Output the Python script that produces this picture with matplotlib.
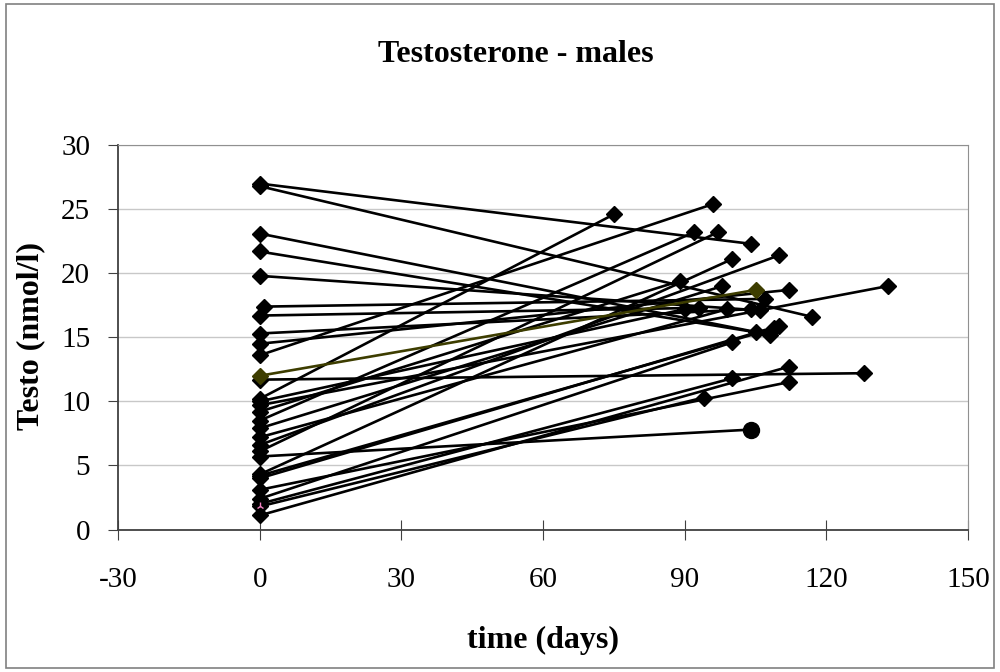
import matplotlib.pyplot as plt
from matplotlib.patches import Rectangle

# baseline (day 0) and follow-up values for each male subject
start_day = [0, 0, 0, 0, 0, 1, 0, 0, 0, 0, 0, 0, 0, 0, 0,
             0, 0, 0, 0, 0, 0, 0, 0, 0, 0, 0, 0, 0, 0, 0]
start_val = [27.0, 26.8, 23.1, 21.7, 19.8, 17.4, 16.7, 15.3, 14.5, 13.6, 12.0, 11.7, 10.2, 9.7, 9.2,
             8.5, 7.9, 7.2, 6.6, 6.1, 5.7, 4.3, 4.0, 4.2, 3.1, 2.4, 1.8, 1.1, 2.0, 10.0]
end_day = [104, 117, 108, 105, 106, 107, 93, 104, 112, 96, 105, 128, 75, 133, 89,
           92, 98, 99, 110, 97, 104, 100, 110, 109, 112, 100, 94, 112, 100, 90]
end_val = [22.3, 16.6, 15.2, 15.4, 17.1, 18.0, 17.3, 17.2, 18.7, 25.4, 18.7, 12.2, 24.6, 19.0, 19.4,
           23.2, 19.0, 17.2, 21.4, 23.2, 7.8, 21.1, 15.9, 15.7, 11.5, 14.6, 10.3, 12.7, 11.8, 17.2]
olive_idx = 10
circle_idx = 20

plt.rcParams['font.family'] = ['Liberation Serif', 'DejaVu Serif']
plt.rcParams['axes.unicode_minus'] = False

fig = plt.figure(figsize=(10, 6.72), dpi=100)
fig.patches.append(Rectangle((0.006, 0.006), 0.988, 0.988, transform=fig.transFigure,
                             fill=False, edgecolor='#808080', linewidth=1.2))
ax = fig.add_axes([0.118, 0.212, 0.85, 0.572])

for i in range(len(start_val)):
    if i == olive_idx:
        continue
    ax.plot([start_day[i], end_day[i]], [start_val[i], end_val[i]], color='black',
            linewidth=1.9, marker='D', markersize=8, zorder=3)
    if i == circle_idx:
        ax.plot(end_day[i], end_val[i], 'o', color='black', markersize=11.5, zorder=4)

# olive series drawn on top
ax.plot([start_day[olive_idx], end_day[olive_idx]], [start_val[olive_idx], end_val[olive_idx]],
        color='#3d3d00', linewidth=1.9, marker='D', markersize=8, zorder=5)
ax.plot(0, 1.8, marker='2', color='#f080c0', markersize=6, zorder=6)

ax.set_xlim(-30, 150)
ax.set_ylim(0, 30)
ax.set_xticks(range(-30, 151, 30))
ax.set_yticks(range(0, 31, 5))
ax.yaxis.grid(True, color='#c8c8c8', linewidth=1)
ax.set_axisbelow(True)
for s in ['top', 'right']:
    ax.spines[s].set_color('#909090')
for s in ['left', 'bottom']:
    ax.spines[s].set_color('#404040')
    ax.spines[s].set_linewidth(1.3)
ax.tick_params(axis='y', direction='out', length=7, labelsize=21, pad=13, colors='#404040', labelcolor='black')
ax.tick_params(axis='x', direction='inout', length=14, labelsize=21, pad=20, colors='#404040', labelcolor='black')

fig.text(0.516, 1 - 55 / 672, 'Testosterone - males', fontsize=23, fontweight='bold',
         ha='center', va='center')
fig.text(0.543, 1 - 640 / 672, 'time (days)', fontsize=23, fontweight='bold',
         ha='center', va='center')
fig.text(0.031, 0.5, 'Testo (nmol/l)', fontsize=23, fontweight='bold',
         ha='center', va='center', rotation=90)

fig.savefig('out.png', dpi=100)
